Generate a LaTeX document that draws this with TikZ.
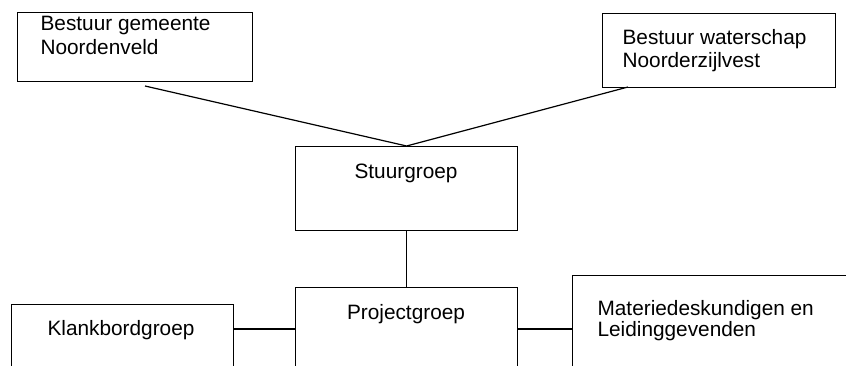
\documentclass[tikz,border=0pt]{standalone}
\usepackage{fontspec}
\setmainfont{Liberation Sans}
\usetikzlibrary{positioning}

\tikzset{
    orgbox/.style={draw, rectangle, inner sep=0pt, anchor=north west},
    boxtext/.style={anchor=base west, inner sep=0pt, font=\fontsize{20.8}{23}\selectfont},
    midtext/.style={anchor=base, inner sep=0pt, font=\fontsize{20.8}{23}\selectfont},
}

\begin{document}
\begin{tikzpicture}[x=1pt, y=-1pt, line width=1.2pt]
    % Fix page size and cut off the lower boxes
    \useasboundingbox (0,0) rectangle (846,366);
    \clip (0,0) rectangle (846,366);

    % Draw Boxes
    \node[orgbox, minimum width=235pt, minimum height=69pt] (gem) at (17,12) {};
    \node[orgbox, minimum width=233pt, minimum height=74pt] (wat) at (602,13) {};
    \node[orgbox, minimum width=222pt, minimum height=84pt] (stuur) at (295,146) {};
    \node[orgbox, minimum width=222pt, minimum height=120pt] (proj) at (295,287) {};
    \node[orgbox, minimum width=222pt, minimum height=120pt] (klank) at (11,304) {};
    \node[orgbox, minimum width=300pt, minimum height=120pt] (mat) at (572,275) {};

    % Box Texts
    \node[boxtext] (gemtxt) at (40,31) {Bestuur gemeente};
    \node[boxtext] (gemtxtb) at (40,55) {Noordenveld};
    \node[boxtext] (wattxt) at (622,45) {Bestuur waterschap};
    \node[boxtext] (wattxtb) at (622,68) {Noorderzijlvest};
    \node[midtext] (stuurtxt) at (406,179) {Stuurgroep};
    \node[midtext] (projtxt) at (406,319) {Projectgroep};
    \node[midtext] (klanktxt) at (121,335) {Klankbordgroep};
    \node[boxtext] (mattxt) at (597,315) {Materiedeskundigen en};
    \node[boxtext] (mattxtb) at (597,336) {Leidinggevenden};

    % Define Coordinates
    \coordinate (gemend) at (145,86);
    \coordinate (watend) at (628,87);

    % Draw Connectors
    \draw (gemend) -- (stuur.north);
    \draw (watend) -- (stuur.north);
    \draw (stuur.south) -- (proj.north);
    \draw (klank.east |- 0,329) -- (proj.west |- 0,329);
    \draw (proj.east |- 0,329) -- (mat.west |- 0,329);
\end{tikzpicture}
\end{document}
